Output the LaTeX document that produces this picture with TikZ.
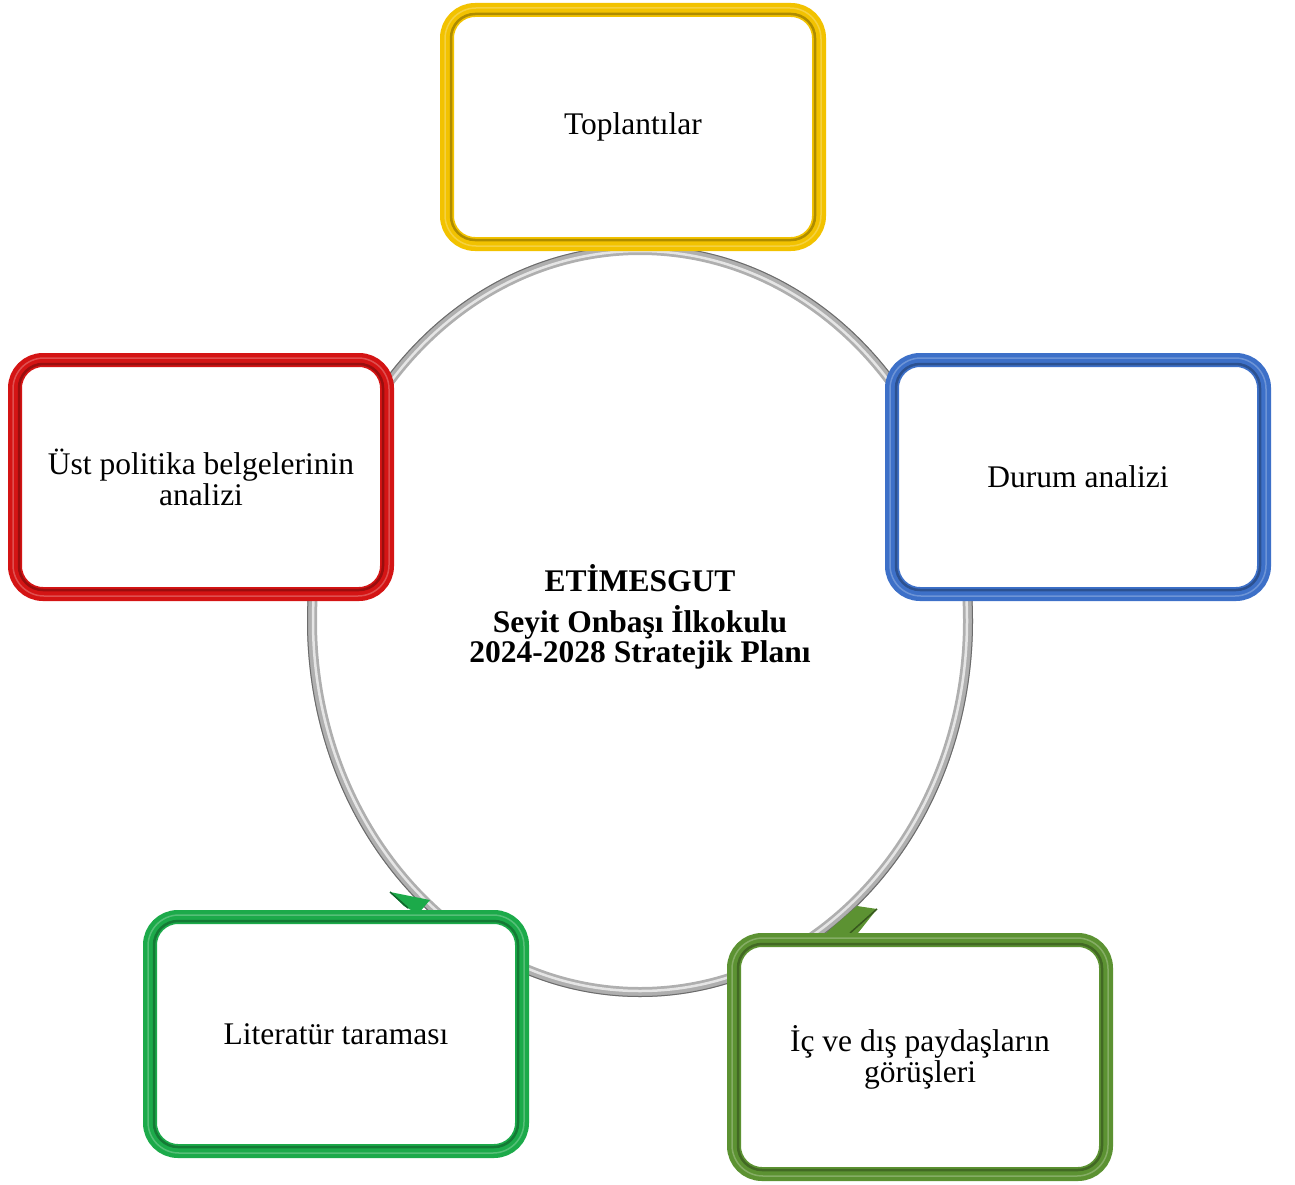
\documentclass[tikz,border=0pt]{standalone}
\usepackage{fontspec}
\setmainfont{Liberation Serif}
\usetikzlibrary{shapes.geometric}
\definecolor{cyel}{HTML}{F2C200}
\definecolor{cred}{HTML}{D41414}
\definecolor{cblu}{HTML}{3D70C8}
\definecolor{cgrn}{HTML}{1CAA4A}
\definecolor{colv}{HTML}{5C9232}
\definecolor{cring}{HTML}{AFAFAF}
\tikzset{
  bbox/.style={rectangle, draw=#1, line width=14pt, rounded corners=28pt, fill=white,
    minimum width=372pt, minimum height=234pt, outer sep=0pt, align=center,
    font=\fontsize{31.5}{31}\selectfont},
  ttl/.style={font=\bfseries\fontsize{31.5}{30}\selectfont, align=center},
}
\newcommand{\bevel}[2]{%
  \draw[#2!72!black, line width=2.5pt, rounded corners=24pt]
    ([shift={(4pt,-4pt)}]#1.north west) rectangle ([shift={(-4pt,4pt)}]#1.south east);
  \draw[#2!75!white, line width=1.5pt, rounded corners=31pt]
    ([shift={(-2pt,2pt)}]#1.north west) rectangle ([shift={(2pt,-2pt)}]#1.south east);
}
\begin{document}
\begin{tikzpicture}[x=1pt,y=-1pt]
\useasboundingbox (0,0) rectangle (1295,1185);
% ring
\node[ellipse, draw=cring, line width=10pt, minimum width=656pt, minimum height=742pt, outer sep=0pt] (ring) at (640,621) {};
\draw[white!80!gray, line width=2.5pt] (640,621) ellipse [x radius=327pt, y radius=370pt];
\draw[gray!85!black, line width=1pt] (640,621) ellipse [x radius=332.5pt, y radius=375.5pt];
% arrowheads
\fill[cgrn] (390,892) -- (430,900) -- (418,914) -- (404,906) -- (390,892);
\draw[cgrn!60!black, line width=1.5pt] (390,892) -- (408,908);
\fill[colv] (877,909) -- (857,906) -- (826,933) -- (858,933) -- (877,909);
\draw[colv!60!black, line width=1.5pt] (877,909) -- (850,933);
% boxes
\node[bbox=cyel] (top) at (633,127) {Toplantılar};
\bevel{top}{cyel}
\node[bbox=cred] (ust) at (201,477) {Üst politika belgelerinin\\analizi};
\bevel{ust}{cred}
\node[bbox=cblu] (durum) at (1078,477) {Durum analizi};
\bevel{durum}{cblu}
\node[bbox=cgrn] (lit) at (336,1034) {Literatür taraması};
\bevel{lit}{cgrn}
\node[bbox=colv] (ic) at (920,1057) {İç ve dış paydaşların\\görüşleri};
\bevel{ic}{colv}
% title
\node[ttl] (t1) at (640,578) {ETİMESGUT};
\node[ttl] (t2) at (640,637) {Seyit Onbaşı İlkokulu\\2024-2028 Stratejik Planı};
\end{tikzpicture}
\end{document}
